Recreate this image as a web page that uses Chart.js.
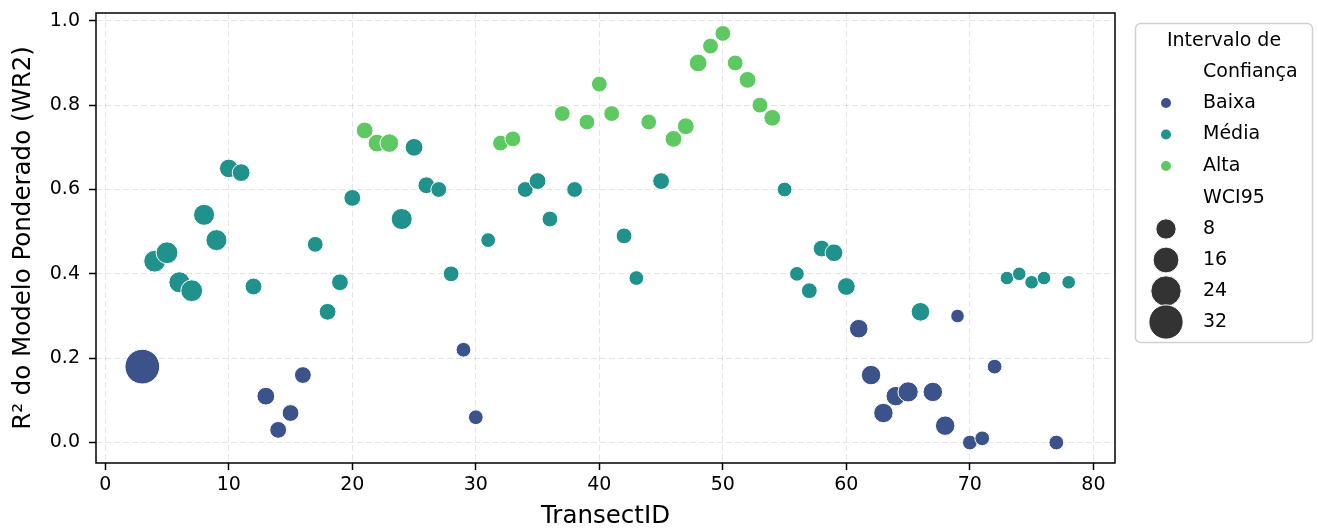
<!DOCTYPE html>
<html>
<head>
<meta charset="utf-8">
<script src="https://cdn.jsdelivr.net/npm/chart.js@4.4.1/dist/chart.umd.min.js"></script>
<style>
    body { margin: 0; background: #fff; }
    #wrap { width: 1318px; height: 529px; }
</style>
</head>
<body>
<div id="wrap"><canvas id="myChart" width="1318" height="529"></canvas></div>
<script>
// data, one entry per transect
const transectIds = [3, 4, 5, 6, 7, 8, 9, 10, 11, 12, 13, 14, 15, 16, 17, 18, 19, 20, 21, 22,
    23, 24, 25, 26, 27, 28, 29, 30, 31, 32, 33, 34, 35, 36, 37, 38, 39, 40, 41, 42,
    43, 44, 45, 46, 47, 48, 49, 50, 51, 52, 53, 54, 55, 56, 57, 58, 59, 60, 61, 62,
    63, 64, 65, 66, 67, 68, 69, 70, 71, 72, 73, 74, 75, 76, 77, 78];
const r2Values = [0.18, 0.43, 0.45, 0.38, 0.36, 0.54, 0.48, 0.65, 0.64, 0.37, 0.11, 0.03, 0.07, 0.16, 0.47, 0.31, 0.38, 0.58, 0.74, 0.71,
    0.71, 0.53, 0.70, 0.61, 0.60, 0.40, 0.22, 0.06, 0.48, 0.71, 0.72, 0.60, 0.62, 0.53, 0.78, 0.60, 0.76, 0.85, 0.78, 0.49,
    0.39, 0.76, 0.62, 0.72, 0.75, 0.90, 0.94, 0.97, 0.90, 0.86, 0.80, 0.77, 0.60, 0.40, 0.36, 0.46, 0.45, 0.37, 0.27, 0.16,
    0.07, 0.11, 0.12, 0.31, 0.12, 0.04, 0.30, 0.00, 0.01, 0.18, 0.39, 0.40, 0.38, 0.39, 0.00, 0.38];
const wci95Values = [33, 10, 10, 9, 10, 9, 9, 6, 5, 4, 5, 4, 4, 4, 3, 4, 4, 4, 4, 5,
    6, 9, 5, 4, 3, 3, 2, 2, 2, 3, 3, 3, 4, 3, 3, 3, 3, 3, 3, 3,
    2, 3, 4, 4, 4, 5, 3, 3, 3, 4, 3, 4, 2, 2, 3, 4, 5, 5, 6, 7,
    7, 7, 8, 6, 7, 7, 1, 2, 2, 2, 1, 1, 1, 1, 2, 1];
const confidence = ['Baixa', 'Média', 'Média', 'Média', 'Média', 'Média', 'Média', 'Média', 'Média', 'Média',
    'Baixa', 'Baixa', 'Baixa', 'Baixa', 'Média', 'Média', 'Média', 'Média', 'Alta', 'Alta',
    'Alta', 'Média', 'Média', 'Média', 'Média', 'Média', 'Baixa', 'Baixa', 'Média', 'Alta',
    'Alta', 'Média', 'Média', 'Média', 'Alta', 'Média', 'Alta', 'Alta', 'Alta', 'Média',
    'Média', 'Alta', 'Média', 'Alta', 'Alta', 'Alta', 'Alta', 'Alta', 'Alta', 'Alta',
    'Alta', 'Alta', 'Média', 'Média', 'Média', 'Média', 'Média', 'Média', 'Baixa', 'Baixa',
    'Baixa', 'Baixa', 'Baixa', 'Média', 'Baixa', 'Baixa', 'Baixa', 'Baixa', 'Baixa', 'Baixa',
    'Média', 'Média', 'Média', 'Média', 'Baixa', 'Média'];

const confidenceLabels = ['Baixa', 'Média', 'Alta'];
const confidenceColors = ['#3b528b', '#21918c', '#5ec962'];
const sizeLegendValues = [8, 16, 24, 32];
const xTicks = [0, 10, 20, 30, 40, 50, 60, 70, 80];
const yTicks = [0.0, 0.2, 0.4, 0.6, 0.8, 1.0];

const FONT = '"DejaVu Sans", sans-serif';

// marker area grows linearly with WCI95 (like seaborn's size mapping)
function sizeToRadius(v) {
    return Math.sqrt(128 + 30.6 * v) / 2 + 0.5;
}

document.addEventListener('DOMContentLoaded', () => {
    const ctx = document.getElementById('myChart').getContext('2d');

    const points = transectIds.map((id, i) => ({ x: id, y: r2Values[i], r: sizeToRadius(wci95Values[i]) }));
    const pointColors = confidence.map(c => confidenceColors[confidenceLabels.indexOf(c)]);

    // frame round the plot, drawn over the points like matplotlib spines
    const frame = {
        id: 'frame',
        afterDatasetsDraw(chart) {
            const a = chart.chartArea;
            const c = chart.ctx;
            c.save();
            c.strokeStyle = '#000';
            c.lineWidth = 1.5;
            c.strokeRect(a.left, a.top, a.right - a.left, a.bottom - a.top);
            c.restore();
        }
    };

    // legend box on the right: hue entries then size entries
    const sideLegend = {
        id: 'sideLegend',
        afterDraw(chart) {
            const c = chart.ctx;
            c.save();
            c.beginPath();
            c.roundRect(1135.5, 23.5, 177, 319, 5);
            c.fillStyle = '#fff';
            c.fill();
            c.strokeStyle = '#d0d0d0';
            c.lineWidth = 1.5;
            c.stroke();

            c.font = '19px ' + FONT;
            c.fillStyle = '#000';
            c.textBaseline = 'middle';
            c.textAlign = 'center';
            c.fillText('Intervalo de', 1224, 41);
            c.textAlign = 'left';
            c.fillText('Confiança', 1203, 72);

            const markerX = 1166;
            const textX = 1203;
            confidenceLabels.forEach((label, i) => {
                const y = 103 + i * 31.5;
                c.beginPath();
                c.arc(markerX, y, 5, 0, Math.PI * 2);
                c.fillStyle = confidenceColors[i];
                c.fill();
                c.fillStyle = '#000';
                c.fillText(label, textX, y);
            });

            c.fillText('WCI95', textX, 198);
            sizeLegendValues.forEach((v, i) => {
                const y = 229 + i * 31;
                c.beginPath();
                c.arc(markerX, y, sizeToRadius(v), 0, Math.PI * 2);
                c.fillStyle = '#333';
                c.fill();
                c.strokeStyle = '#fff';
                c.lineWidth = 1;
                c.stroke();
                c.fillStyle = '#000';
                c.fillText(String(v), textX, y);
            });
            c.restore();
        }
    };

    new Chart(ctx, {
        type: 'bubble',
        data: {
            datasets: [{
                label: 'WR2',
                data: points,
                backgroundColor: pointColors,
                borderColor: '#fff',
                borderWidth: 1,
                hoverBorderWidth: 1
            }]
        },
        options: {
            responsive: false,
            animation: false,
            devicePixelRatio: 1,
            layout: {
                autoPadding: false,
                padding: { top: 13, right: 203, bottom: 0, left: 0 }
            },
            plugins: {
                legend: { display: false },
                tooltip: { enabled: false }
            },
            scales: {
                x: {
                    type: 'linear',
                    min: -0.75,
                    max: 81.75,
                    afterBuildTicks: scale => { scale.ticks = xTicks.map(v => ({ value: v })); },
                    afterFit: scale => {
                        scale.height = 66;
                        scale.paddingLeft = 0;
                        scale.paddingRight = 0;
                    },
                    ticks: {
                        color: '#000',
                        font: { family: FONT, size: 19 },
                        padding: 4,
                        maxRotation: 0,
                        callback: v => String(v)
                    },
                    grid: {
                        color: 'rgba(0,0,0,0.1)',
                        lineWidth: 1,
                        tickColor: '#000',
                        tickLength: 7,
                        tickWidth: 1.5
                    },
                    border: { display: false, dash: [6, 3] },
                    title: {
                        display: true,
                        text: 'TransectID',
                        color: '#000',
                        font: { family: FONT, size: 24.5, lineHeight: 1 },
                        padding: { top: 0, bottom: 0 }
                    }
                },
                y: {
                    type: 'linear',
                    min: -0.0485,
                    max: 1.0185,
                    afterBuildTicks: scale => { scale.ticks = yTicks.map(v => ({ value: v })); },
                    afterFit: scale => {
                        scale.width = 96;
                        scale.paddingTop = 0;
                        scale.paddingBottom = 0;
                    },
                    ticks: {
                        color: '#000',
                        font: { family: FONT, size: 19 },
                        padding: 9,
                        callback: v => v.toFixed(1)
                    },
                    grid: {
                        color: 'rgba(0,0,0,0.1)',
                        lineWidth: 1,
                        tickColor: '#000',
                        tickLength: 7,
                        tickWidth: 1.5
                    },
                    border: { display: false, dash: [6, 3] },
                    title: {
                        display: true,
                        text: 'R² do Modelo Ponderado (WR2)',
                        color: '#000',
                        font: { family: FONT, size: 24.5, lineHeight: 1 },
                        padding: { top: 11, bottom: 0 }
                    }
                }
            }
        },
        plugins: [frame, sideLegend]
    });
});
</script>
</body>
</html>
